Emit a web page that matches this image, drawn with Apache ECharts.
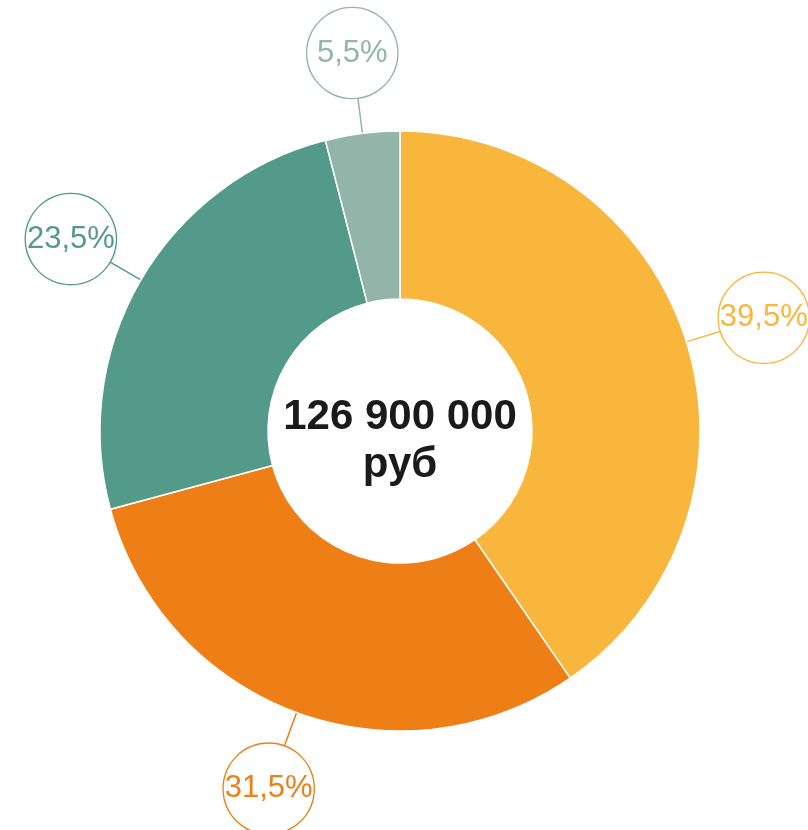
<!DOCTYPE html>
<html>
<head>
<meta charset="utf-8">
<style>
  html, body { margin: 0; padding: 0; background: #fff; }
  #main { width: 808px; height: 830px; }
</style>
<script src="https://cdn.jsdelivr.net/npm/echarts@6/dist/echarts.min.js"></script>
</head>
<body>
<div id="main"></div>
<script>
// доли секторов (по углам на картинке) и подписи
var shares = [40.4, 30.4, 25.2, 4.0];
var labels = ['39,5%', '31,5%', '23,5%', '5,5%'];
var colors = ['#F8B63C', '#EE7F17', '#549A89', '#93B5A9'];
var totalText = ['126 900 000', 'руб'];

var CX = 400, CY = 431;   // центр кольца
var R = 45;               // радиус кружка с подписью

var chart = echarts.init(document.getElementById('main'));

chart.setOption({
  animation: false,
  graphic: [{
    type: 'text',
    x: CX,
    y: CY + 10,
    style: {
      text: totalText.join('\n'),
      fill: '#1a1a1a',
      font: 'bold 42px "Liberation Sans", Arial, sans-serif',
      lineHeight: 48,
      align: 'center',
      verticalAlign: 'middle'
    },
    z: 10
  }],
  series: [{
    type: 'pie',
    center: [CX, CY],
    radius: [132, 300],
    startAngle: 90,
    clockwise: true,
    avoidLabelOverlap: false,
    itemStyle: { borderColor: '#fff', borderWidth: 1.5 },
    label: {
      show: true,
      position: 'outside',
      formatter: function (p) { return labels[p.dataIndex]; },
      width: 2 * R,
      height: 2 * R,
      lineHeight: 2 * R,
      overflow: 'none',
      borderRadius: R + 1,
      borderWidth: 1.3,
      backgroundColor: '#fff',
      align: 'center',
      fontFamily: '"Liberation Sans", Arial, sans-serif',
      fontSize: 31,
      padding: 0
    },
    labelLine: {
      show: true,
      length: 35,
      length2: 0,
      smooth: false,
      lineStyle: { width: 1.5 }
    },
    labelLayout: function (params) {
      var pts = params.labelLinePoints;
      if (!pts) return {};
      var p0 = pts[0], p1 = pts[1];
      var dx = p1[0] - p0[0], dy = p1[1] - p0[1];
      var d = Math.sqrt(dx * dx + dy * dy) || 1;
      var ux = dx / d, uy = dy / d;
      return {
        x: p1[0] + ux * (R + 1),
        y: p1[1] + uy * (R + 1),
        align: 'center',
        verticalAlign: 'middle',
        labelLinePoints: [p0, p1, p1]
      };
    },
    data: shares.map(function (v, i) {
      return {
        value: v,
        itemStyle: { color: colors[i] },
        label: { color: colors[i], borderColor: colors[i] },
        labelLine: { lineStyle: { color: colors[i] } }
      };
    })
  }]
});
</script>
</body>
</html>
